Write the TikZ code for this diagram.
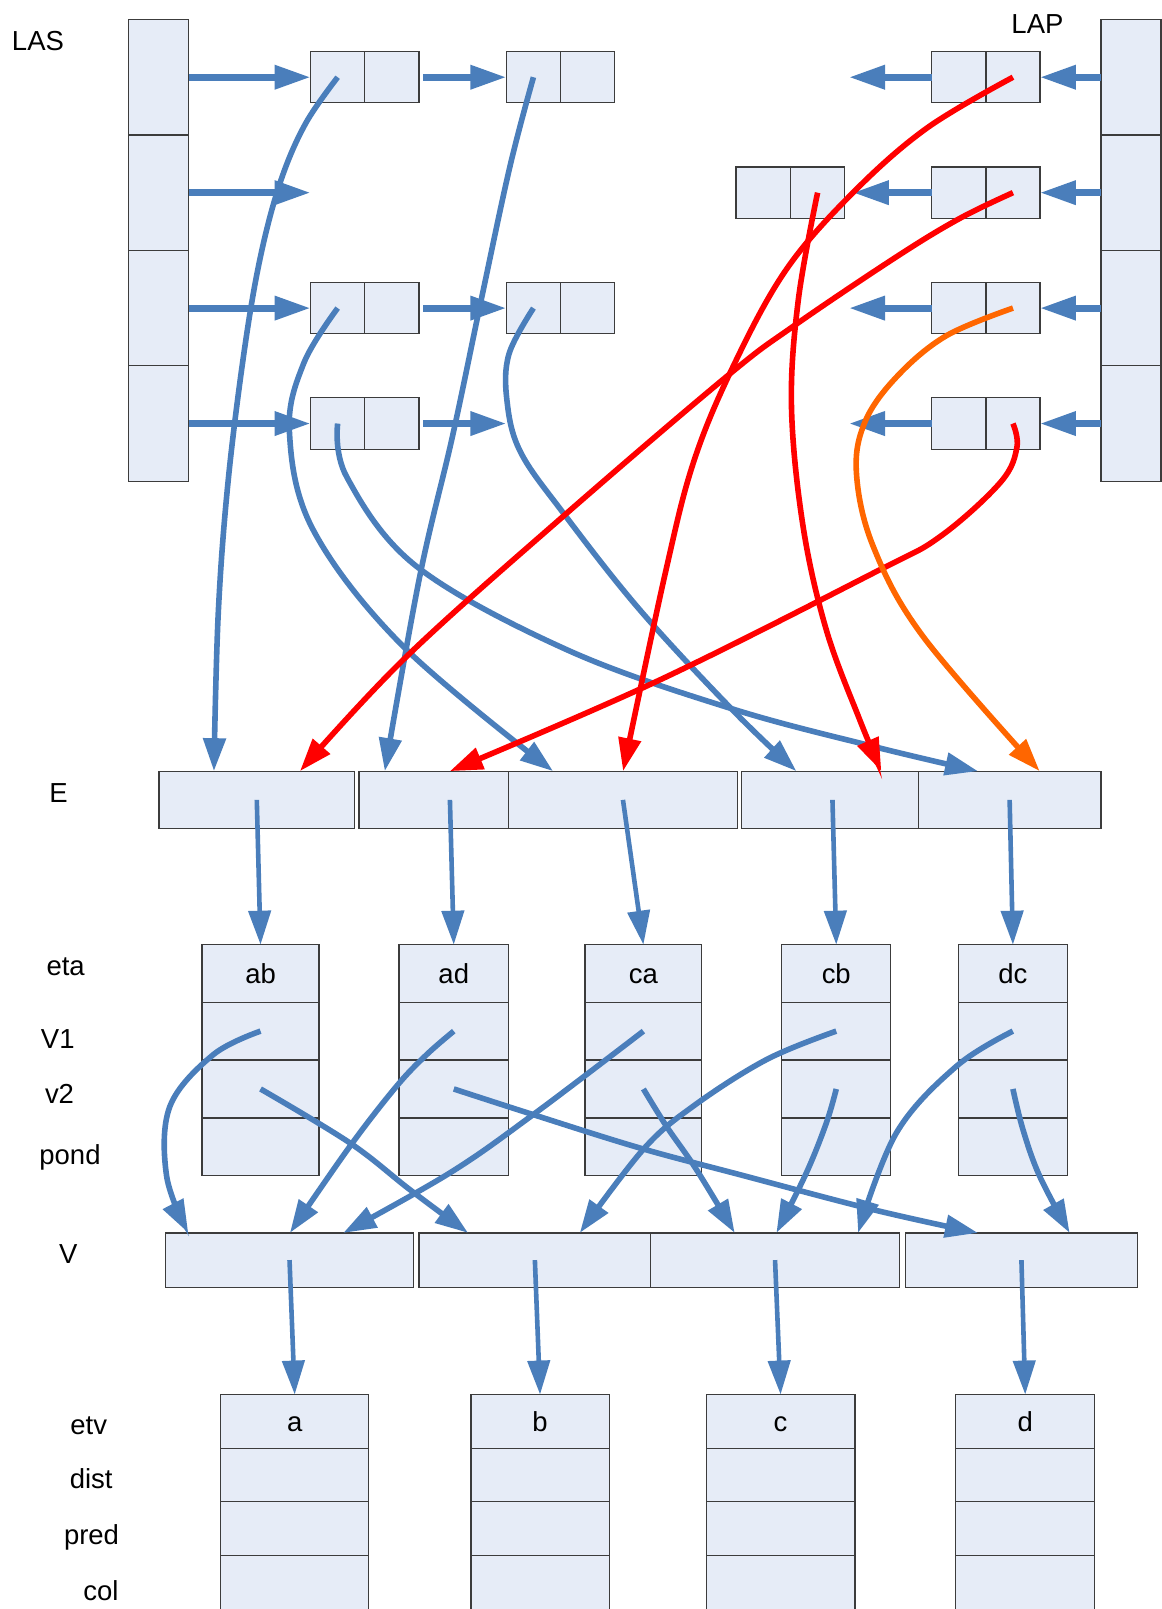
\documentclass[tikz,border=0pt]{standalone}
\usepackage{fontspec}
\setmainfont{Liberation Sans}
\usetikzlibrary{arrows.meta,calc}

\definecolor{linkblue}{HTML}{4A7EBB}
\definecolor{linkred}{HTML}{FF0000}
\definecolor{linkorange}{HTML}{FF6600}
\definecolor{cellfill}{HTML}{E6ECF7}
\definecolor{cellline}{HTML}{3C3C3C}

% \cellat[text]{name}{x1}{y1}{x2}{y2}: one filled cell spanning the given corners
\newcommand{\cellat}[6][]{%
  \node[cell, minimum width={(#5-#3)*1.0265pt}, minimum height={(#6-#4)*1.0265pt}]
    (#2) at ({(#3+#5)/2},{(#4+#6)/2}) {#1};}

\begin{document}
\begin{tikzpicture}[x=1.0265pt, y=-1.0265pt,
  cell/.style={draw=cellline, fill=cellfill, line width=1.2pt, inner sep=0pt, outer sep=0pt,
    font=\fontsize{27.5}{33}\selectfont, text height=19.7pt, text depth=0pt},
  lbl/.style={font=\fontsize{27.5}{33}\selectfont, anchor=base, inner sep=0pt},
  hlink/.style={linkblue, line width=6.8pt, -{Triangle[length=36pt,width=23pt]}},
  vlink/.style={linkblue, line width=4.6pt, -{Triangle[length=34pt,width=22pt]}},
  curve/.style={line width=5.6pt, -{Triangle[length=33pt,width=22pt]}},
  blink/.style={curve, linkblue},
  rlink/.style={curve, linkred},
  olink/.style={curve, linkorange},
  sm/.style={smooth, tension=0.6}
]
\useasboundingbox (0,0) rectangle (1132,1568);

% ---------- side labels ----------
\node[lbl] (tLAS)  at (37,49.4)    {LAS};
\node[lbl] (tLAP)  at (1011,32.5)  {LAP};
\node[lbl] (tE)    at (57,782)     {E};
\node[lbl] (teta)  at (64,950.8)   {eta};
\node[lbl] (tV1)   at (56.3,1021.3){V1};
\node[lbl] (tv2)   at (58,1074.9)  {v2};
\node[lbl] (tpond) at (68.2,1135)  {pond};
\node[lbl] (tV)    at (66.5,1231.4){V};
\node[lbl] (tetv)  at (86.4,1398)  {etv};
\node[lbl] (tdist) at (88.9,1450.9){dist};
\node[lbl] (tpred) at (89.2,1505)  {pred};
\node[lbl] (tcol)  at (98.3,1559.3){col};

% ---------- LAS and LAP heads ----------
\cellat{las1}{125}{19}{184}{131.5}
\cellat{las2}{125}{131.5}{184}{244}
\cellat{las3}{125}{244}{184}{356.5}
\cellat{las4}{125}{356.5}{184}{469}
\cellat{lap1}{1073}{19}{1131.5}{131.5}
\cellat{lap2}{1073}{131.5}{1131.5}{244}
\cellat{lap3}{1073}{244}{1131.5}{356.5}
\cellat{lap4}{1073}{356.5}{1131.5}{469}

% ---------- successor list cells ----------
\cellat{sA1}{302.6}{50.25}{355.5}{100.25}   \cellat{sA2}{355.5}{50.25}{408.4}{100.25}
\cellat{sB1}{493.4}{50.25}{546.3}{100.25}   \cellat{sB2}{546.3}{50.25}{599.2}{100.25}
\cellat{sC1}{302.6}{275.25}{355.5}{325.25}  \cellat{sC2}{355.5}{275.25}{408.4}{325.25}
\cellat{sD1}{493.4}{275.25}{546.3}{325.25}  \cellat{sD2}{546.3}{275.25}{599.2}{325.25}
\cellat{sE1}{302.6}{387.75}{355.5}{437.75}  \cellat{sE2}{355.5}{387.75}{408.4}{437.75}

% ---------- predecessor list cells ----------
\cellat{pA1}{908}{50.25}{960.8}{100.25}     \cellat{pA2}{960.8}{50.25}{1013.5}{100.25}
\cellat{pB1}{908}{162.75}{960.8}{212.75}    \cellat{pB2}{960.8}{162.75}{1013.5}{212.75}
\cellat{pX1}{717.3}{162.75}{770.3}{212.75}  \cellat{pX2}{770.3}{162.75}{823.2}{212.75}
\cellat{pC1}{908}{275.25}{960.8}{325.25}    \cellat{pC2}{960.8}{275.25}{1013.5}{325.25}
\cellat{pD1}{908}{387.75}{960.8}{437.75}    \cellat{pD2}{960.8}{387.75}{1013.5}{437.75}

% ---------- E array ----------
\cellat{E1}{155}{751.5}{345.5}{807.5}
\cellat{E2}{349.9}{751.5}{527}{807.5}
\cellat{E3}{495.6}{751.5}{718.6}{807.5}
\cellat{E4}{722.5}{751.5}{900}{807.5}
\cellat{E5}{894.8}{751.5}{1073}{807.5}

% ---------- edge records ----------
\foreach \nm/\xa/\xb in {ab/196.9/310.9, ad/388.8/495.6, ca/570/684, cb/761.9/868, dc/933.7/1040.5}{
  \cellat[\nm]{\nm}{\xa}{920.6}{\xb}{976.7}
  \cellat{\nm-v1}{\xa}{976.7}{\xb}{1033}
  \cellat{\nm-v2}{\xa}{1033}{\xb}{1089.4}
  \cellat{\nm-p}{\xa}{1089.4}{\xb}{1145.6}
}

% ---------- V array ----------
\cellat{V1}{161}{1201.5}{403.3}{1254.4}
\cellat{V2}{408.4}{1201.5}{634.1}{1254.4}
\cellat{V3}{634.1}{1201.5}{876.5}{1254.4}
\cellat{V4}{882.2}{1201.5}{1108.6}{1254.4}

% ---------- vertex records ----------
\foreach \nm/\xa/\xb in {a/215.1/359.3, b/458.9/593.7, c/688.2/833.2, d/931.3/1066.9}{
  \cellat[\nm]{vx-\nm}{\xa}{1359}{\xb}{1411.3}
  \cellat{vx-\nm-dist}{\xa}{1411.3}{\xb}{1463.5}
  \cellat{vx-\nm-pred}{\xa}{1463.5}{\xb}{1515.8}
  \cellat{vx-\nm-col}{\xa}{1515.8}{\xb}{1569.5}
}

% ---------- free ends and landing points ----------
\coordinate (s2end) at (302.6,187.75);
\coordinate (s4end) at (493.4,412.75);
\coordinate (p1end) at (827.4,75.25);
\coordinate (p3end) at (827.4,300.25);
\coordinate (p4end) at (827.4,412.75);

\coordinate (t1)  at ($(E1.north west)+(53.5,0)$);
\coordinate (t7)  at ($(E1.north west)+(137.3,0)$);
\coordinate (t2)  at ($(E2.north west)+(25.1,0)$);
\coordinate (t9)  at ($(E2.north west)+(88.5,0)$);
\coordinate (t3)  at ($(E3.north west)+(43.4,0)$);
\coordinate (t6)  at ($(E3.north west)+(111.6,0)$);
\coordinate (t4)  at ($(E4.north west)+(53.6,0)$);
\coordinate (t8)  at ($(E4.north west)+(136.4,0)$);
\coordinate (t5)  at ($(E5.north west)+(58.3,0)$);
\coordinate (t10) at ($(E5.north west)+(118.4,0)$);

\coordinate (u-abV1) at ($(V1.north west)+(22.5,0)$);
\coordinate (u-adV1) at ($(V1.north west)+(121.5,0)$);
\coordinate (u-caV1) at ($(V1.north west)+(173.5,0)$);
\coordinate (u-abv2) at ($(V2.north west)+(47.8,0)$);
\coordinate (u-cbV1) at ($(V2.north west)+(156.6,0)$);
\coordinate (u-cav2) at ($(V3.north west)+(81.9,0)$);
\coordinate (u-cbv2) at ($(V3.north west)+(122.5,0)$);
\coordinate (u-dcV1) at ($(V3.north west)+(202.1,0)$);
\coordinate (u-adv2) at ($(V4.north west)+(70.9,0)$);
\coordinate (u-dcv2) at ($(V4.north west)+(160.2,0)$);

% ---------- list links ----------
\draw[hlink] (las1.east) -- (sA1.west);
\draw[hlink] (las2.east) -- (s2end);
\draw[hlink] (las3.east) -- (sC1.west);
\draw[hlink] (las4.east) -- (sE1.west);
\draw[hlink] ($(sA2.east)+(4.3,0)$) -- (sB1.west);
\draw[hlink] ($(sC2.east)+(4.3,0)$) -- (sD1.west);
\draw[hlink] ($(sE2.east)+(4.3,0)$) -- (s4end);

\draw[hlink] (lap1.west) -- (pA2.east);
\draw[hlink] (lap2.west) -- (pB2.east);
\draw[hlink] (lap3.west) -- (pC2.east);
\draw[hlink] (lap4.west) -- (pD2.east);
\draw[hlink] (pA1.west) -- (p1end);
\draw[hlink] (pB1.west) -- ($(pX2.east)+(8,0)$);
\draw[hlink] (pC1.west) -- (p3end);
\draw[hlink] (pD1.west) -- (p4end);

% ---------- successor cells to E ----------
\draw[blink] plot[sm] coordinates {(sA1.center) (298,120) (274,175) (254.5,247) (238.6,338) (222.4,468) (212.7,597.5) (t1)};
\draw[blink] plot[sm] coordinates {(sB1.center) (497,162) (469,292) (441,425) (409,562) (t2)};
\draw[blink] plot[sm] coordinates {(sC1.center) (296,354) (282,420) (305,516) (393,630) (t3)};
\draw[blink] plot[sm] coordinates {(sD1.center) (496,345) (494,390) (507,440) (549,500) (623.5,594.3) (714,692) (t4)};
\draw[blink] plot[sm] coordinates {(sE1.center) (338,465) (406,552) (552,633) (711,690) (851,727.4) (t5)};

% ---------- predecessor cells to E ----------
\draw[rlink] plot[sm] coordinates {(pA2.center) (903,125) (831,188) (766,263) (714.5,357) (676,450) (648,560) (t6)};
\draw[rlink] plot[sm] coordinates {(pB2.center) (935,213) (874,250) (773,318) (708,367) (549,503) (396,640) (t7)};
\draw[rlink] plot[sm] coordinates {(pX2.center) (778,292) (771.3,396) (782.6,513) (805.3,614) (837.8,701.4) (t8)};
\draw[rlink] plot[sm] coordinates {(pD2.center) (991,436) (975,470) (916,523) (851,558.5) (640,664) (t9)};
\draw[olink] plot[sm] coordinates {(pC2.center) (922,327.3) (874,367) (843,411) (834.6,461) (851,532.6) (899.5,620.2) (t10)};

% ---------- E to edge records ----------
\draw[vlink] (E1.center) -- (ab.north);
\draw[vlink] (E2.center) -- (ad.north);
\draw[vlink] (E3.center) -- (ca.north);
\draw[vlink] (E4.center) -- (cb.north);
\draw[vlink] (E5.center) -- (dc.north);

% ---------- edge ends to V ----------
\draw[blink] plot[sm] coordinates {(ab-v1.center) (207.8,1027.8) (165.6,1078.1) (162.4,1146.3) (u-abV1)};
\draw[blink] plot[sm] coordinates {(ab-v2.center) (341,1113.8) (399.4,1159.3) (u-abv2)};
\draw[blink] plot[sm] coordinates {(ad-v1.center) (415.7,1027.8) (386.4,1058.6) (341,1117.1) (u-adV1)};
\draw[blink] plot[sm] coordinates {(ad-v2.center) (519.6,1086.2) (623.5,1118.7) (720.9,1144.7) (850.8,1178.8) (u-adv2)};
\draw[blink] plot[sm] coordinates {(ca-v1.center) (519.6,1086.2) (438.4,1143) (u-caV1)};
\draw[blink] plot[sm] coordinates {(ca-v2.center) (649.5,1097.6) (678.7,1139.8) (u-cav2)};
\draw[blink] plot[sm] coordinates {(cb-v1.center) (746.9,1032.6) (675.4,1078.1) (626.7,1120.3) (u-cbV1)};
\draw[blink] plot[sm] coordinates {(cb-v2.center) (805.3,1094.3) (785.8,1143) (u-cbv2)};
\draw[blink] plot[sm] coordinates {(dc-v1.center) (932,1039.1) (873.5,1104.1) (u-dcV1)};
\draw[blink] plot[sm] coordinates {(dc-v2.center) (996.9,1100.8) (1013.2,1146.3) (u-dcv2)};

% ---------- V to vertex records ----------
\draw[vlink] (V1.center) -- (vx-a.north);
\draw[vlink] (V2.center) -- (vx-b.north);
\draw[vlink] (V3.center) -- (vx-c.north);
\draw[vlink] (V4.center) -- (vx-d.north);
\end{tikzpicture}
\end{document}
